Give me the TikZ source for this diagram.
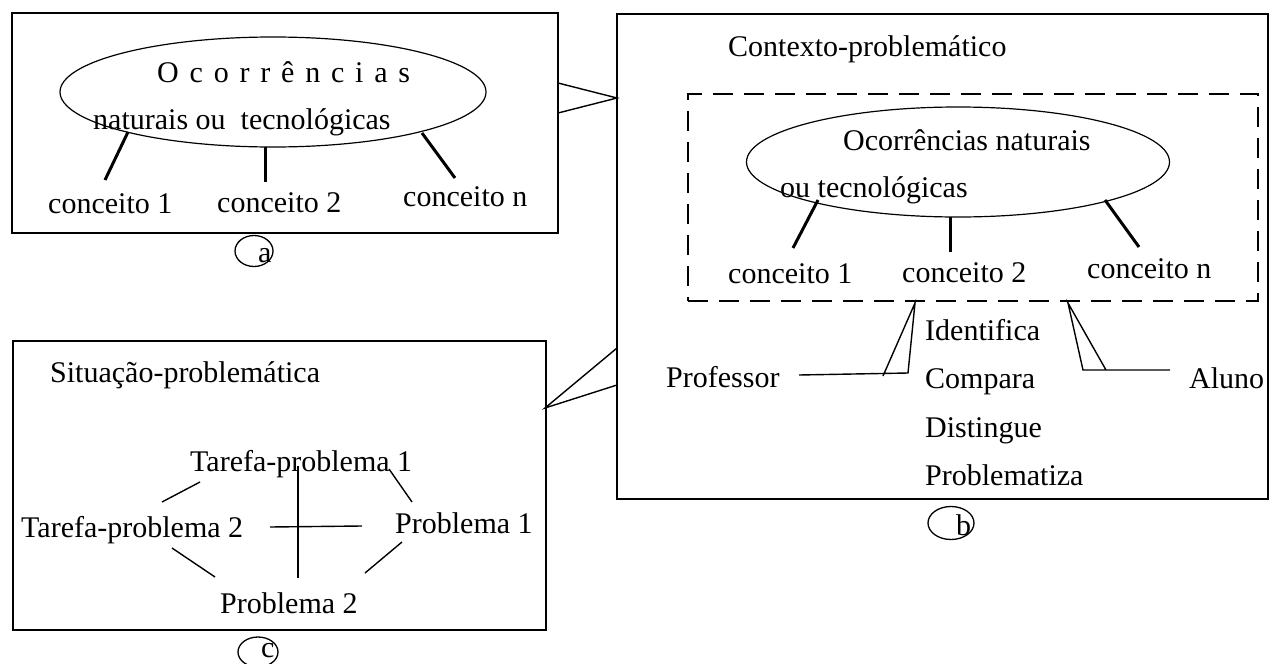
\documentclass[tikz,border=0pt]{standalone}
\usepackage{fontspec}
\setmainfont{Liberation Serif}
\usetikzlibrary{shapes.geometric}
\begin{document}
\begin{tikzpicture}[x=1pt,y=-1pt,
  txt/.style={inner sep=0pt, anchor=base west, font=\fontsize{30}{36}\selectfont},
  frame/.style={draw, line width=1.2pt, inner sep=0pt},
  oval/.style={ellipse, draw, line width=1.2pt, inner sep=0pt},
  dashframe/.style={draw, line width=2.6pt, inner sep=0pt, dash pattern=on 20pt off 11pt},
  bold link/.style={line width=3pt},
  fine link/.style={line width=1.4pt},
  tag/.style={ellipse, draw, line width=1.3pt, inner sep=0pt},
]
\path[use as bounding box] (0,0) rectangle (1275,664);
\clip (0,0) rectangle (1275,664);
\fill[white] (0,0) rectangle (1275,664);

% ---------- box (a) ----------
\node[frame, minimum width=546pt, minimum height=220pt] (boxa) at (285,123) {};
\node[oval, minimum width=426pt, minimum height=110pt] (ella) at (273,92) {};
\node[txt] (occa) at (157,82) {\spaceskip=10.8pt O c o r r ê n c i a s};
\node[txt] (nata) at (93,129) {naturais ou~ tecnológicas};
\node[txt] (a1) at (48,213) {conceito 1};
\node[txt] (a2) at (217,212) {conceito 2};
\node[txt] (an) at (403,206) {conceito n};
\coordinate (a1t) at (128,132); \coordinate (a1b) at (105,180);
\coordinate (a2t) at (265,147); \coordinate (a2b) at (265,182);
\coordinate (ant) at (422,133); \coordinate (anb) at (455,178);
\draw[bold link] (a1t) -- (a1b);
\draw[bold link] (a2t) -- (a2b);
\draw[bold link] (ant) -- (anb);
\node[tag, minimum width=38pt, minimum height=31pt] (taga) at (254,251) {};
\node[txt] (la) at (258,262) {a};

% ---------- box (b) ----------
\node[frame, minimum width=651pt, minimum height=485pt] (boxb) at (942.5,256.5) {};
\node[txt] (ctx) at (728,56) {Contexto-problemático};
\node[dashframe, minimum width=570pt, minimum height=207pt] (dash) at (973,197.5) {};
\node[oval, minimum width=423pt, minimum height=110pt] (ellb) at (958,162) {};
\node[txt] (occb) at (843,150) {Ocorrências naturais};
\node[txt] (tecb) at (780,197) {ou tecnológicas};
\node[txt] (b1) at (728,283) {conceito 1};
\node[txt] (b2) at (902,282) {conceito 2};
\node[txt] (bn) at (1087,278) {conceito n};
\coordinate (b1t) at (818,200); \coordinate (b1b) at (793,248);
\coordinate (b2t) at (950,217); \coordinate (b2b) at (950,252);
\coordinate (bnt) at (1105,200); \coordinate (bnb) at (1139,247);
\draw[bold link] (b1t) -- (b1b);
\draw[bold link] (b2t) -- (b2b);
\draw[bold link] (bnt) -- (bnb);

\node[txt] (prof) at (666,387) {Professor};
\node[txt] (ident) at (925,340) {Identifica};
\node[txt] (comp) at (925,388) {Compara};
\node[txt] (dist) at (925,437) {Distingue};
\node[txt] (probz) at (925,485) {Problematiza};
\node[txt] (aluno) at (1189,388) {Aluno};
\coordinate (pl) at (799,375); \coordinate (pr) at (908,373);
\coordinate (pm) at (883,376); \coordinate (papex) at (915,303);
\draw[fine link] (pl) -- (pr) -- (papex) -- (pm);
\coordinate (al) at (1083,370); \coordinate (ar) at (1170,370);
\coordinate (am) at (1106,370); \coordinate (aapex) at (1068,303);
\draw[fine link] (ar) -- (al) -- (aapex) -- (am);
\node[tag, minimum width=46pt, minimum height=33pt] (tagb) at (951,523) {};
\node[txt] (lb) at (956,535) {b};

% ---------- box (c) ----------
\node[frame, minimum width=533pt, minimum height=289pt] (boxc) at (279.5,485.5) {};
\node[txt] (sit) at (50,382) {Situação-problemática};
\node[txt] (tp1) at (190,471) {Tarefa-problema 1};
\node[txt] (tp2) at (21,537) {Tarefa-problema 2};
\node[txt] (p1) at (395,533) {Problema 1};
\node[txt] (p2) at (220,613) {Problema 2};
\coordinate (c1a) at (200,482); \coordinate (c1b) at (162,502);
\coordinate (c2a) at (172,548); \coordinate (c2b) at (215,577);
\coordinate (c3a) at (389,469); \coordinate (c3b) at (412,502);
\coordinate (c4a) at (402,542); \coordinate (c4b) at (365,573);
\coordinate (vt) at (298,466); \coordinate (vb) at (298,578);
\coordinate (hl) at (270,527); \coordinate (hr) at (362,526);
\draw[fine link] (c1a) -- (c1b);
\draw[fine link] (c2a) -- (c2b);
\draw[fine link] (c3a) -- (c3b);
\draw[fine link] (c4a) -- (c4b);
\draw[fine link] (vt) -- (vb);
\draw[fine link] (hl) -- (hr);
\node[tag, minimum width=40pt, minimum height=30pt] (tagc) at (258,652) {};
\node[txt] (lc) at (261,657) {c};

% ---------- links between the boxes ----------
\coordinate (ab1) at (558,83); \coordinate (ab2) at (558,113);
\coordinate (abtip) at (617,98);
\draw[fine link] (ab1) -- (abtip) -- (ab2);
\coordinate (cb1) at (617,348); \coordinate (cb2) at (617,385);
\coordinate (cbtip) at (545,408);
\draw[fine link] (cb1) -- (cbtip) -- (cb2);
\end{tikzpicture}
\end{document}
